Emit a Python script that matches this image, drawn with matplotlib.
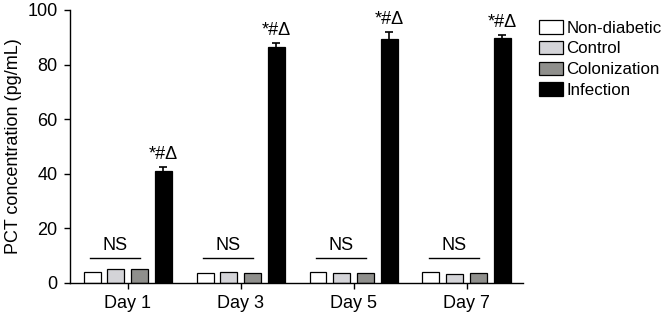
import numpy as np
import matplotlib
matplotlib.use('Agg')
import matplotlib.pyplot as plt

plt.rcParams['font.family'] = ['Liberation Sans', 'DejaVu Sans']

# Данные
days = ['Day 1', 'Day 3', 'Day 5', 'Day 7']
groups = ['Non-diabetic', 'Control', 'Colonization', 'Infection']
non_diabetic = [4.0, 3.5, 4.0, 4.0]
control = [5.2, 4.0, 3.5, 3.2]
colonization = [5.2, 3.6, 3.6, 3.8]
infection = [41.0, 86.5, 89.3, 89.8]
infection_err = [1.5, 1.2, 2.6, 1.0]
ns_level = 9
colors = ['white', '#d4d4d8', '#8f8f8c', 'black']

fig = plt.figure(figsize=(6.62, 3.2), dpi=100)
ax = fig.add_axes([0.106, 0.116, 0.684, 0.853])

x = np.arange(len(days))
pitch = 0.21
width = 0.15
series = [non_diabetic, control, colonization, infection]
for i, (vals, c, name) in enumerate(zip(series, colors, groups)):
    err = infection_err if name == 'Infection' else None
    ax.bar(x + (i - 1.5) * pitch, vals, width, color=c, edgecolor='black',
           linewidth=0.9, label=name, yerr=err,
           error_kw=dict(ecolor='black', elinewidth=1.2, capsize=3, capthick=1.2))

# Подписи значимости
for k in range(len(days)):
    xi = x[k] + 1.5 * pitch
    ax.text(xi, infection[k] + infection_err[k] + 1.5, '*#Δ', ha='center',
            va='bottom', fontsize=13)
    x0 = x[k] - 1.5 * pitch - width / 2 + 0.06
    x1 = x[k] + 0.5 * pitch + width / 2 - 0.07
    ax.plot([x0, x1], [ns_level, ns_level], color='black', lw=1)
    ax.text((x0 + x1) / 2, ns_level + 1.5, 'NS', ha='center', va='bottom', fontsize=13)

ax.set_xlim(-0.51, 3.5)
ax.set_ylim(0, 100)
ax.set_yticks(range(0, 101, 20))
ax.set_xticks(x)
ax.set_xticklabels(days)
ax.set_ylabel('PCT concentration (pg/mL)', fontsize=13, labelpad=4)
ax.tick_params(labelsize=13, width=1, length=4, pad=5)
for s in ['top', 'right']:
    ax.spines[s].set_visible(False)
for s in ['left', 'bottom']:
    ax.spines[s].set_linewidth(1)

ax.legend(loc='upper left', bbox_to_anchor=(1.028, 0.975), frameon=False,
          fontsize=12.2, handlelength=1.4, handleheight=0.85, handletextpad=0.2,
          labelspacing=0.3, borderaxespad=0, borderpad=0.2)

fig.savefig('out.png', dpi=100)
